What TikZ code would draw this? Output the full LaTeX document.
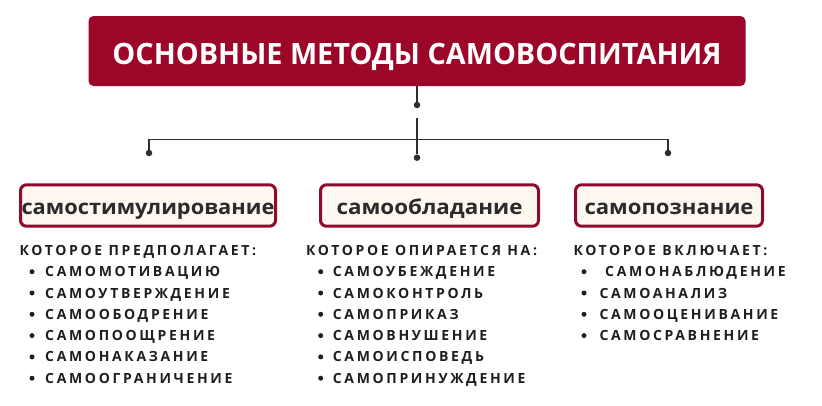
\documentclass[tikz,border=0pt]{standalone}
\usepackage{fontspec}
\setmainfont{Open Sans}
\newfontfamily\listfont[LetterSpace=19]{Open Sans}
\definecolor{titlered}{HTML}{9B0629}
\definecolor{boxred}{HTML}{8E0B2C}
\definecolor{boxfill}{HTML}{FFF8F1}
\definecolor{txt}{HTML}{1E1E1E}
\definecolor{boxtxt}{HTML}{2B2B2B}
\definecolor{linec}{HTML}{2E2E2E}
\newcommand\fitto[2]{\setbox0=\hbox{#2}\pgfmathsetmacro\fitratio{#1/\the\wd0}\scalebox{\fitratio}[1]{\box0}}
\begin{document}
\begin{tikzpicture}[x=1pt,y=-1pt,
  titlebox/.style={fill=titlered, rounded corners=5pt, minimum width=657pt, minimum height=70pt,
    inner sep=0pt, text=white, font=\bfseries\fontsize{29.4}{30}\selectfont, text height=26pt, text depth=0pt},
  catbox/.style={draw=boxred, line width=3pt, fill=boxfill, rounded corners=6pt, minimum height=41.4pt,
    inner sep=0pt, text=boxtxt, font=\bfseries\fontsize{20.5}{22}\selectfont, text height=18pt, text depth=0pt},
  dot/.style={circle, fill=linec, inner sep=0pt, minimum size=6.5pt},
  conn/.style={draw=linec, line width=1.5pt},
  hdr/.style={anchor=base west, inner sep=0pt, text=txt, font=\listfont\bfseries\fontsize{14}{16}\selectfont},
  item/.style={anchor=base west, inner sep=0pt, text=txt, font=\listfont\bfseries\fontsize{14}{16}\selectfont},
  bul/.style={circle, fill=txt, inner sep=0pt, minimum size=5pt}
]
\useasboundingbox (0,0) rectangle (822,405);
% title
\node[titlebox] (title) at (417,51) {\fitto{609}{ОСНОВНЫЕ МЕТОДЫ САМОВОСПИТАНИЯ}};
% connectors
\node[dot] (d0) at (417,105) {};
\coordinate (j0) at (417,118);
\node[dot] (dm) at (417,157.7) {};
\node[dot] (dl) at (149,153) {};
\node[dot] (dr) at (668,153) {};
\coordinate (hl) at (149,139.3);
\coordinate (hr) at (668,139.3);
\draw[conn] (title.south) -- (d0);
\draw[conn] (j0) -- (dm);
\draw[conn] (dl) -- (hl) -- (hr) -- (dr);
% category boxes
\node[catbox, minimum width=255pt] (b1) at (148,205.5) {\fitto{253}{самостимулирование}};
\node[catbox, minimum width=218pt] (b2) at (429.5,205.5) {\fitto{186}{самообладание}};
\node[catbox, minimum width=187pt] (b3) at (669,205.5) {\fitto{169}{самопознание}};
% lists
\node[hdr] (h1) at (19.5,255) {КОТОРОЕ ПРЕДПОЛАГАЕТ:};
\node[hdr] (h2) at (306,255) {КОТОРОЕ ОПИРАЕТСЯ НА:};
\node[hdr] (h3) at (573.3,255) {КОТОРОЕ ВКЛЮЧАЕТ:};
\foreach \t [count=\i] in {САМОМОТИВАЦИЮ, САМОУТВЕРЖДЕНИЕ, САМООБОДРЕНИЕ, САМОПООЩРЕНИЕ, САМОНАКАЗАНИЕ, САМООГРАНИЧЕНИЕ}{
  \node[bul] (la\i) at (32,271.7+21.3*\i-21.3) {};
  \node[item] (l\i) at (45,276.7+21.3*\i-21.3) {\t};
}
\foreach \t [count=\i] in {САМОУБЕЖДЕНИЕ, САМОКОНТРОЛЬ, САМОПРИКАЗ, САМОВНУШЕНИЕ, САМОИСПОВЕДЬ, САМОПРИНУЖДЕНИЕ}{
  \node[bul] (ma\i) at (320.7,271.7+21.3*\i-21.3) {};
  \node[item] (m\i) at (332.7,276.7+21.3*\i-21.3) {\t};
}
\foreach \t/\xx [count=\i] in {САМОНАБЛЮДЕНИЕ/605, САМОАНАЛИЗ/599.3, САМООЦЕНИВАНИЕ/599.3, САМОСРАВНЕНИЕ/599.3}{
  \node[bul] (ra\i) at (584,271.7+21.3*\i-21.3) {};
  \node[item] (r\i) at (\xx,276.7+21.3*\i-21.3) {\t};
}
\end{tikzpicture}
\end{document}
